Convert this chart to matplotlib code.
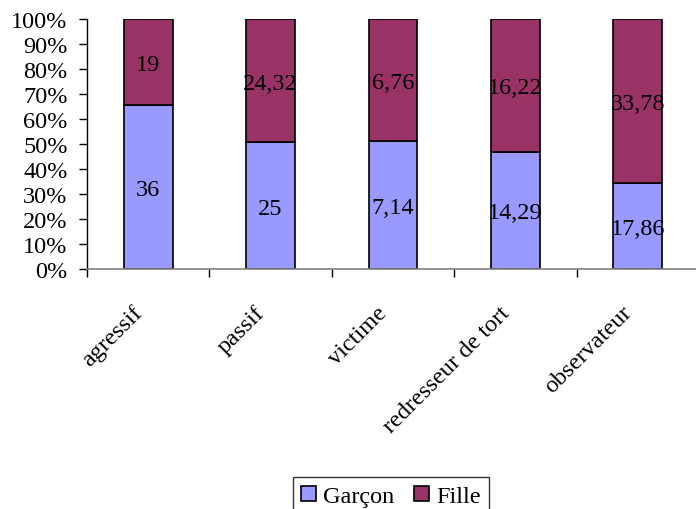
import numpy as np
import matplotlib
matplotlib.use("Agg")
import matplotlib.pyplot as plt
from matplotlib.ticker import FixedLocator, PercentFormatter
from matplotlib.transforms import ScaledTranslation

categories = ["agressif", "passif", "victime", "redresseur de tort", "observateur"]
garcon = [36, 25, 7.14, 14.29, 17.86]
fille = [19, 24.32, 6.76, 16.22, 33.78]
garcon_lbl = ["36", "25", "7,14", "14,29", "17,86"]
fille_lbl = ["19", "24,32", "6,76", "16,22", "33,78"]

plt.rcParams['font.family'] = ['Liberation Serif', 'DejaVu Serif']
fs = 17.5

g = np.array(garcon)
f = np.array(fille)
tot = g + f
gp = g / tot * 100
fp = f / tot * 100

fig = plt.figure(figsize=(6.96, 5.10), dpi=100)
ax = fig.add_axes([87/696, 1-270/510, 612/696, 250/510])

x = np.arange(len(categories)) + 0.5
ax.bar(x, gp, width=0.4, color="#9999FF", edgecolor="black", linewidth=1.2, label="Garçon")
ax.bar(x, fp, width=0.4, bottom=gp, color="#993366", edgecolor="black", linewidth=1.2, label="Fille")

for i in range(len(categories)):
    ax.text(x[i], gp[i]/2, garcon_lbl[i], ha="center", va="center_baseline", fontsize=fs)
    ax.text(x[i], gp[i] + fp[i]/2, fille_lbl[i], ha="center", va="center_baseline", fontsize=fs)

ax.set_xlim(0, len(categories))
ax.set_ylim(0, 100)
ax.yaxis.set_major_locator(FixedLocator(np.arange(0, 101, 10)))
ax.yaxis.set_major_formatter(PercentFormatter(decimals=0))
ax.tick_params(axis="y", labelsize=fs, length=6, width=1, pad=8, direction="out")

ax.set_xticks(np.arange(len(categories)))
ax.set_xticklabels([])
ax.tick_params(axis="x", which="major", length=6, width=1, direction="out")
ax.set_xticks(x, minor=True)
ax.set_xticklabels(categories, minor=True, rotation=45, ha="right", va="center",
                   rotation_mode="anchor", fontsize=fs)
ax.tick_params(axis="x", which="minor", length=0, pad=29)
shift = ScaledTranslation(-0.09, 0, fig.dpi_scale_trans)
for lbl in ax.get_xticklabels(minor=True):
    lbl.set_transform(lbl.get_transform() + shift)

ax.spines["top"].set_visible(False)
ax.spines["right"].set_visible(False)
ax.spines["bottom"].set_color("#808080")
ax.spines["bottom"].set_linewidth(1.2)
ax.spines["left"].set_linewidth(1)

fig.legend(loc="upper center", bbox_to_anchor=(391/696, 1-466/510), ncol=2,
           fontsize=fs, frameon=True, fancybox=False, edgecolor="black",
           handlelength=0.6, handleheight=0.6, handletextpad=0.3, columnspacing=0.8,
           borderpad=0.35)

fig.savefig("out.png", dpi=100)
